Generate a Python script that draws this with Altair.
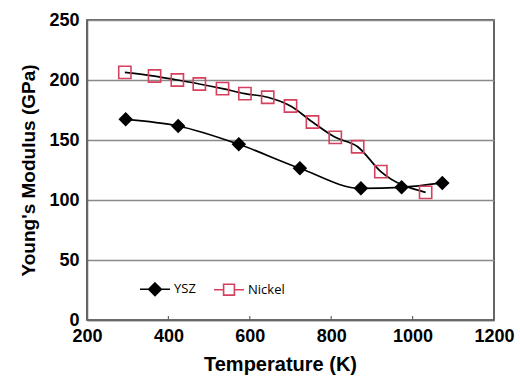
import altair as alt
import pandas as pd

ysz_t = [295, 424, 573, 723, 873, 973, 1073]
ysz_e = [167.2, 161.7, 146.4, 126.4, 109.7, 110.6, 114.2]
ni_t = [293, 366, 422, 476, 533, 588, 644, 700, 754, 810, 865, 922, 1032]
ni_e = [206.4, 203.3, 200.0, 196.7, 192.8, 188.6, 185.6, 178.3, 165.0, 152.2, 144.4, 123.6, 106.4]
series_names = ["YSZ", "Nickel"]
x_ticks = [200, 400, 600, 800, 1000, 1200]
y_ticks = [0, 50, 100, 150, 200, 250]

df = pd.concat([
    pd.DataFrame({"T": ysz_t, "E": ysz_e, "series": "YSZ"}),
    pd.DataFrame({"T": ni_t, "E": ni_e, "series": "Nickel"}),
])

FONT = "Liberation Sans"
RED = "#d6405f"
xscale = alt.Scale(domain=[200, 1200], nice=False)
yscale = alt.Scale(domain=[0, 250], nice=False)
x = alt.X("T:Q", scale=xscale,
          axis=alt.Axis(values=x_ticks, title="Temperature (K)", grid=False,
                        ticks=False, format="d", labelFlush=False,
                        labelFont=FONT, labelFontWeight="bold",
                        labelFontSize=18, labelColor="black", labelPadding=7,
                        titleFont=FONT, titleFontWeight="bold", titleFontSize=20,
                        titleColor="black", titlePadding=9, titleX=193,
                        domainColor="#666", domainWidth=1.5))
y = alt.Y("E:Q", scale=yscale,
          axis=alt.Axis(values=y_ticks, title="Young's Modulus (GPa)", grid=True,
                        gridColor="#8a8a8a", gridWidth=1.5, ticks=False,
                        labelFlush=False,
                        labelFont=FONT, labelFontWeight="bold", labelFontSize=18,
                        labelColor="black", labelPadding=8,
                        titleFont=FONT, titleFontWeight="bold", titleFontSize=19,
                        titleColor="black", titlePadding=10,
                        domainColor="#666", domainWidth=1.5))

lines = alt.Chart(df).mark_line(interpolate="monotone", strokeWidth=1.7,
                                color="black").encode(
    x=x, y=y, detail="series:N")

ysz_pts = alt.Chart(df).transform_filter(alt.datum.series == "YSZ").mark_point(
    shape="diamond", filled=True, color="black", size=210, opacity=1
).encode(x=x, y=y)

ni_pts = alt.Chart(df).transform_filter(alt.datum.series == "Nickel").mark_point(
    shape="square", filled=False, stroke=RED, strokeWidth=1.6, size=150, opacity=1
).encode(x=x, y=y)

# legend-only layer (no rows drawn): line-with-marker symbols
leg_shapes = [
    "M-1,0H-0.42M0.42,0H1M0,-0.42L0.42,0L0,0.42L-0.42,0Z",
    "M-1,0H-0.36M0.36,0H1M-0.36,-0.36H0.36V0.36H-0.36Z",
]
legend_layer = alt.Chart(df).transform_filter("false").mark_point(
    opacity=1, strokeWidth=1.6).encode(
    x=alt.X("T:Q", scale=xscale),
    y=alt.Y("E:Q", scale=yscale),
    shape=alt.Shape("series:N", sort=series_names,
                    scale=alt.Scale(domain=series_names, range=leg_shapes)),
    fill=alt.Fill("series:N", sort=series_names,
                  scale=alt.Scale(domain=series_names, range=["black", "transparent"])),
    stroke=alt.Stroke("series:N", sort=series_names,
                      scale=alt.Scale(domain=series_names, range=["black", RED])),
)

ticks = alt.Chart(pd.DataFrame({"T": x_ticks[1:-1]})).mark_rule(
    color="#666", strokeWidth=1.2).encode(
    x=alt.X("T:Q", scale=xscale),
    y=alt.value(296), y2=alt.value(300),
)

chart = alt.layer(lines, ysz_pts, ni_pts, legend_layer, ticks).properties(
    width=407, height=300,
    autosize=alt.AutoSizeParams(type="none"),
    padding={"left": 87, "top": 20, "right": 26, "bottom": 57},
    background="white",
).configure_view(stroke="#333", strokeWidth=1.5).configure_legend(
    orient="none", legendX=52, legendY=253, direction="horizontal",
    title=None, labelFont="Open Sans", labelFontSize=13, labelColor="black",
    columnPadding=14, symbolSize=900, symbolStrokeWidth=1.6, labelOffset=3,
    symbolOpacity=1,
)

chart.save("out.html", embed_options={"renderer": "svg", "actions": False})
